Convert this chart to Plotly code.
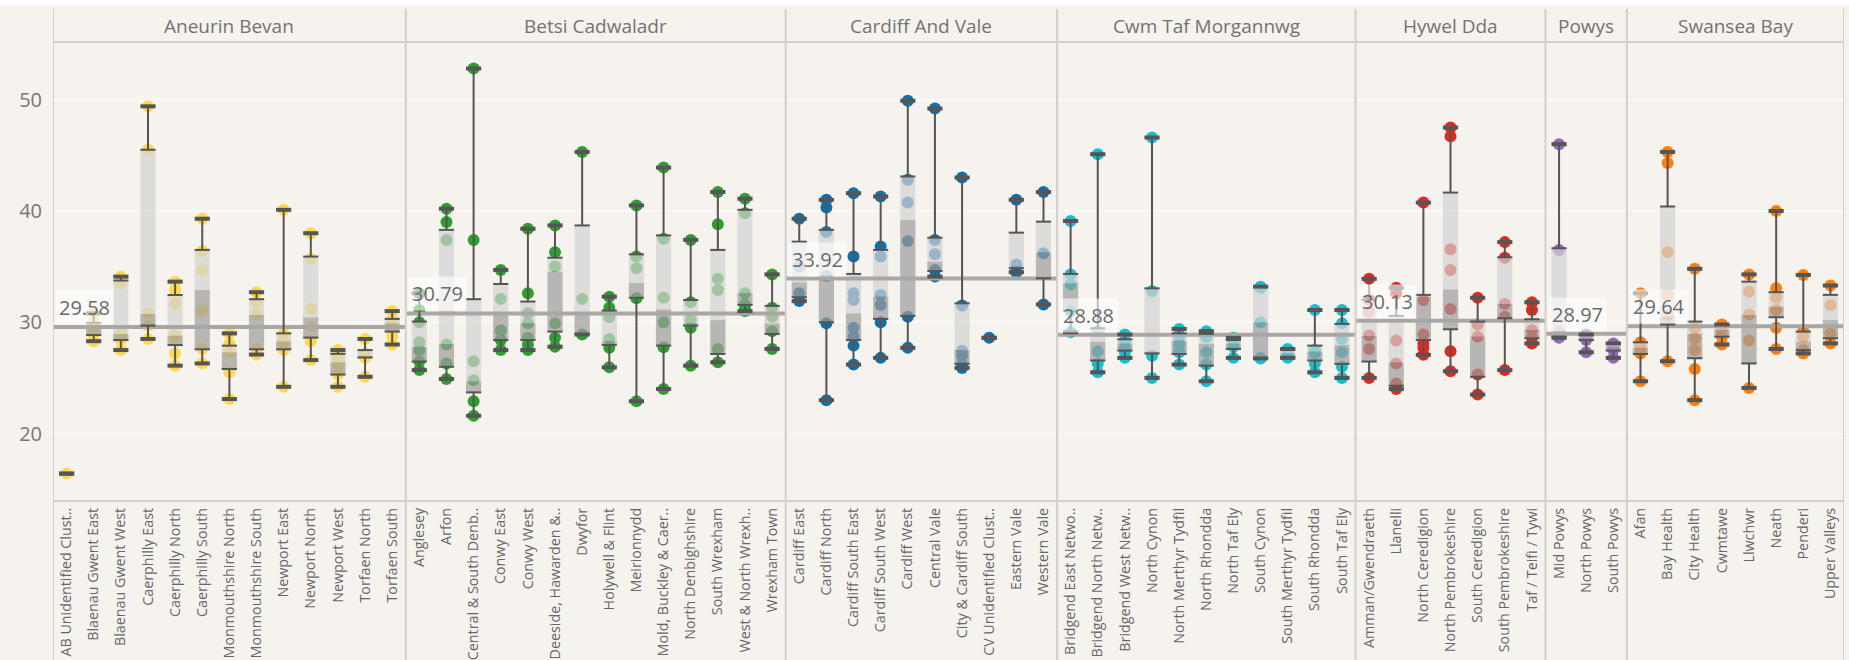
import plotly.graph_objects as go

# ---------------- DATA ----------------
boards = ["Aneurin Bevan", "Betsi Cadwaladr", "Cardiff And Vale", "Cwm Taf Morgannwg",
          "Hywel Dda", "Powys", "Swansea Bay"]
board_colors = ["#ffd84e", "#2ca02c", "#1170aa", "#17becf", "#e0291f", "#9467bd", "#ff7f0e"]
board_avg = [29.58, 30.79, 33.92, 28.88, 30.13, 28.97, 29.64]

ab_names = ["AB Unidentified Clust..", "Blaenau Gwent East", "Blaenau Gwent West", "Caerphilly East",
            "Caerphilly North", "Caerphilly South", "Monmouthshire North", "Monmouthshire South",
            "Newport East", "Newport North", "Newport West", "Torfaen North", "Torfaen South"]
ab_pts = [[16.4], [30.8, 29.9, 29.4, 28.85, 28.3], [34.1, 33.5, 28.95, 28.4, 27.5],
          [49.4, 45.5, 30.8, 29.7, 28.5], [33.65, 32.9, 31.7, 28.8, 28.6, 27.2, 26.1],
          [39.3, 36.4, 34.7, 31.1, 27.6, 26.3], [29.0, 28.1, 27.3, 25.5, 23.1],
          [32.7, 31.8, 30.7, 27.6, 27.1], [40.1, 29.0, 28.3, 27.5, 24.2],
          [38.0, 35.7, 31.2, 29.6, 28.3, 26.6], [27.5, 26.8, 26.2, 25.3, 24.2],
          [28.5, 27.2, 26.8, 25.1], [31.0, 30.3, 29.9, 29.2, 28.7, 28.0]]
ab_q1 = [16.4, 28.85, 28.4, 29.7, 27.95, 27.57, 25.8, 27.57, 27.57, 28.62, 25.3, 26.83, 29.16]
ab_med = [16.4, 29.8, 28.95, 30.75, 28.8, 32.9, 27.3, 30.66, 28.3, 30.45, 26.4, 27.0, 29.9]
ab_q3 = [16.4, 29.95, 33.75, 45.5, 32.45, 36.5, 27.9, 32.07, 29.0, 35.9, 27.16, 27.5, 30.3]

bc_names = ["Anglesey", "Arfon", "Central & South Denb..", "Conwy East", "Conwy West",
            "Deeside, Hawarden &..", "Dwyfor", "Holywell & Flint", "Meirionnydd",
            "Mold, Buckley & Caer..", "North Denbighshire", "South Wrexham",
            "West & North Wrexh..", "Wrexham Town"]
bc_pts = [[32.6, 31.1, 30.0, 28.2, 27.5, 26.5, 25.7], [40.2, 39.0, 37.4, 28.0, 26.3, 24.9],
          [52.8, 37.4, 26.5, 24.8, 22.9, 21.6], [34.7, 32.1, 29.25, 28.4, 27.5],
          [38.4, 32.6, 30.8, 29.9, 28.6, 28.0, 27.5], [38.7, 36.3, 35.0, 29.9, 28.6, 27.8],
          [45.3, 32.1, 28.9], [32.3, 31.3, 30.45, 28.5, 27.7, 25.95],
          [40.5, 35.9, 34.85, 32.15, 22.9], [43.9, 37.5, 32.2, 30.0, 27.75, 24.0],
          [37.4, 31.8, 30.2, 29.5, 26.1], [41.7, 38.8, 33.9, 32.9, 27.6, 26.4],
          [41.1, 39.8, 32.6, 31.6, 31.2, 31.0], [34.3, 31.3, 30.5, 29.2, 27.6]]
bc_q1 = [26.47, 26.0, 23.7, 28.4, 28.4, 29.16, 28.95, 27.96, 32.2, 27.9, 29.7, 27.15, 31.56, 28.95]
bc_med = [27.8, 28.05, 24.67, 30.8, 29.9, 34.55, 30.66, 28.26, 33.56, 31.17, 29.9, 30.2, 32.6, 29.9]
bc_q3 = [30.06, 38.3, 32.07, 33.44, 31.86, 35.8, 38.7, 31.05, 36.1, 37.8, 32.0, 36.5, 40.1, 31.47]

cv_names = ["Cardiff East", "Cardiff North", "Cardiff South East", "Cardiff South West",
            "Cardiff West", "Central Vale", "City & Cardiff South", "CV Unidentified Clust..",
            "Eastern Vale", "Western Vale"]
cv_pts = [[39.3, 35.0, 32.6, 31.9], [41.0, 40.3, 38.1, 34.15, 29.9, 23.0],
          [41.6, 35.9, 32.6, 32.0, 29.5, 28.7, 27.9, 26.2],
          [41.3, 36.8, 35.9, 32.45, 31.55, 30.0, 26.8], [49.9, 42.8, 40.75, 37.3, 30.5, 27.7],
          [49.2, 37.4, 36.1, 34.7, 34.1], [43.0, 31.5, 27.45, 27.0, 26.2, 25.9], [28.6],
          [41.0, 35.2, 34.5], [41.7, 36.2, 31.6]]
cv_q1 = [32.25, 30.0, 28.4, 30.3, 30.57, 34.6, 26.26, 28.6, 34.85, 33.95]
cv_med = [33.6, 34.25, 30.8, 32.3, 39.2, 35.45, 27.5, 28.6, 35.0, 36.26]
cv_q3 = [37.24, 38.3, 34.34, 36.5, 43.1, 37.6, 31.7, 28.6, 38.05, 39.04]

ct_names = ["Bridgend East Netwo..", "Bridgend North Netw..", "Bridgend West Netw..", "North Cynon",
            "North Merthyr Tydfil", "North Rhondda", "North Taf Ely", "South Cynon",
            "South Merthyr Tydfil", "South Rhondda", "South Taf Ely"]
ct_pts = [[39.1, 34.3, 33.4, 31.0, 29.1], [45.1, 29.2, 27.4, 26.3, 25.5],
          [28.9, 28.3, 27.7, 27.3, 26.8], [46.6, 32.8, 27.0, 25.0],
          [29.4, 28.7, 28.0, 27.3, 26.2], [29.2, 28.65, 27.3, 26.2, 24.7],
          [28.6, 28.26, 27.8, 26.8], [33.2, 33.1, 29.97, 26.8, 26.75], [27.6, 27.2, 26.8],
          [31.1, 27.5, 27.2, 26.3, 25.5], [31.1, 29.9, 28.5, 27.3, 26.0, 25.0]]
ct_q1 = [31.0, 26.56, 27.45, 27.2, 27.15, 26.1, 27.6, 26.77, 26.8, 26.56, 26.26]
ct_med = [33.5, 28.26, 28.1, 27.3, 28.35, 28.1, 28.1, 29.97, 27.2, 27.37, 27.96]
ct_q3 = [34.34, 29.46, 28.47, 33.05, 29.0, 28.95, 28.4, 33.2, 27.57, 27.9, 29.85]

hd_names = ["Amman/Gwendraeth", "Llanelli", "North Ceredigion", "North Pembrokeshire",
            "South Ceredigion", "South Pembrokeshire", "Taf / Teifi / Tywi"]
hd_pts = [[33.9, 32.0, 30.9, 28.8, 27.6, 25.0], [33.1, 32.6, 28.35, 26.3, 24.5, 24.0],
          [40.75, 32.0, 28.9, 28.1, 27.7, 27.07], [47.5, 46.7, 36.55, 34.7, 31.2, 27.4, 25.6],
          [32.2, 29.8, 28.7, 25.3, 23.5], [37.2, 35.8, 31.65, 30.5, 25.7],
          [31.8, 31.1, 29.3, 28.6, 28.1]]
hd_q1 = [26.47, 24.3, 28.4, 29.37, 25.1, 30.36, 28.56]
hd_med = [28.77, 26.38, 32.3, 32.96, 28.7, 31.65, 29.3]
hd_q3 = [32.0, 30.57, 32.46, 41.65, 30.06, 35.84, 30.27]

po_names = ["Mid Powys", "North Powys", "South Powys"]
po_pts = [[46.0, 36.5, 29.2, 28.7, 28.6], [28.9, 28.6, 28.4, 27.3], [28.1, 27.8, 27.5, 26.8]]
po_q1 = [28.7, 28.4, 27.45]
po_med = [29.2, 28.6, 27.8]
po_q3 = [36.65, 28.86, 28.1]

sb_names = ["Afan", "Bay Health", "City Health", "Cwmtawe", "Llwchwr", "Neath", "Penderi",
            "Upper Valleys"]
sb_pts = [[32.6, 28.2, 27.8, 27.2, 24.7], [45.3, 44.3, 36.3, 32.45, 30.65, 26.5],
          [34.8, 29.5, 28.56, 27.5, 25.8, 23.0], [29.8, 29.3, 28.7, 28.0],
          [34.3, 32.75, 30.7, 28.35, 24.1], [40.0, 33.05, 32.2, 31.1, 29.5, 27.6],
          [34.25, 29.2, 28.7, 27.5, 27.2], [33.3, 31.56, 29.0, 28.1]]
sb_q1 = [27.15, 29.8, 26.77, 28.7, 26.3, 30.45, 27.5, 28.56]
sb_med = [27.7, 30.5, 29.0, 29.3, 30.66, 31.4, 28.26, 30.2]
sb_q3 = [28.2, 40.4, 30.06, 29.76, 33.65, 32.7, 29.16, 32.46]

groups = [
    (ab_names, ab_pts, ab_q1, ab_med, ab_q3),
    (bc_names, bc_pts, bc_q1, bc_med, bc_q3),
    (cv_names, cv_pts, cv_q1, cv_med, cv_q3),
    (ct_names, ct_pts, ct_q1, ct_med, ct_q3),
    (hd_names, hd_pts, hd_q1, hd_med, hd_q3),
    (po_names, po_pts, po_q1, po_med, po_q3),
    (sb_names, sb_pts, sb_q1, sb_med, sb_q3),
]

# ---------------- STYLE ----------------
BG = "#f6f2ee"
SEP = "#d3cfcb"
WHISK = "#555555"
FONT = "Open Sans"
BW = 0.28     # half box width (category units)
CW = 0.28     # half cap width

fig = go.Figure()

all_names, all_x = [], []
panel_ranges = []
idx = 0
for gi, (names, pts, q1, med, q3) in enumerate(groups):
    start = idx
    xs = list(range(idx, idx + len(names)))
    idx += len(names)
    panel_ranges.append((start - 0.5, idx - 0.5))
    all_names += names
    all_x += xs
    px, py = [], []
    for x, p in zip(xs, pts):
        px += [x] * len(p)
        py += p
    fig.add_trace(go.Scatter(x=px, y=py, mode="markers",
                             marker=dict(size=12, color=board_colors[gi], line=dict(width=0)),
                             showlegend=False, hoverinfo="y"))

# boxes (drawn above points, semi transparent)
lowx, lowy, upx, upy = [], [], [], []
idx = 0
for names, pts, q1, med, q3 in groups:
    for k in range(len(names)):
        x = idx + k
        if q3[k] > q1[k]:
            lowx += [x - BW, x + BW, x + BW, x - BW, x - BW, None]
            lowy += [q1[k], q1[k], med[k], med[k], q1[k], None]
            upx += [x - BW, x + BW, x + BW, x - BW, x - BW, None]
            upy += [med[k], med[k], q3[k], q3[k], med[k], None]
    idx += len(names)

fig.add_trace(go.Scatter(x=lowx, y=lowy, mode="lines", fill="toself",
                         fillcolor="rgba(157,157,157,0.7)", line=dict(width=0),
                         showlegend=False, hoverinfo="skip"))
fig.add_trace(go.Scatter(x=upx, y=upy, mode="lines", fill="toself",
                         fillcolor="rgba(211,211,211,0.7)", line=dict(width=0),
                         showlegend=False, hoverinfo="skip"))

# reference lines
for gi, (x0, x1) in enumerate(panel_ranges):
    fig.add_trace(go.Scatter(x=[x0, x1], y=[board_avg[gi]] * 2, mode="lines",
                             line=dict(color="#aaa6a3", width=4),
                             showlegend=False, hoverinfo="skip"))

# whiskers and caps
wx, wy, tx, ty, hx, hy = [], [], [], [], [], []
idx = 0
for names, pts, q1, med, q3 in groups:
    for k in range(len(names)):
        x = idx + k
        lo, hi = min(pts[k]), max(pts[k])
        wx += [x, x, None, x, x, None]
        wy += [q3[k], hi, None, lo, q1[k], None]
        if q3[k] > q1[k]:
            tx += [x - CW, x + CW, None, x - CW, x + CW, None]
            ty += [q1[k], q1[k], None, q3[k], q3[k], None]
        hx += [x - CW, x + CW, None, x - CW, x + CW, None]
        hy += [lo, lo, None, hi, hi, None]
    idx += len(names)

fig.add_trace(go.Scatter(x=wx, y=wy, mode="lines", line=dict(color=WHISK, width=2),
                         showlegend=False, hoverinfo="skip"))
fig.add_trace(go.Scatter(x=tx, y=ty, mode="lines", line=dict(color=WHISK, width=2),
                         showlegend=False, hoverinfo="skip"))
fig.add_trace(go.Scatter(x=hx, y=hy, mode="lines", line=dict(color=WHISK, width=4),
                         showlegend=False, hoverinfo="skip"))

# ---------------- LAYOUT ----------------
W, H = 1849, 660
ML, MR, MT, MB = 53, 5, 42, 159
H_PLOT = H - MT - MB          # 459
PLOT_BOTTOM = H - MB          # 501
top_paper = (PLOT_BOTTOM - 9) / H_PLOT
bot_paper = (PLOT_BOTTOM - H) / H_PLOT

shapes = []
# thin white strip along the very top
shapes.append(dict(type="rect", xref="paper", yref="paper", x0=-0.05, x1=1.05,
                   y0=(PLOT_BOTTOM - 5) / H_PLOT, y1=(PLOT_BOTTOM + 5) / H_PLOT,
                   fillcolor="white", line=dict(width=0), layer="below"))
bounds = [panel_ranges[0][0]] + [r[1] for r in panel_ranges]
for b in bounds:
    shapes.append(dict(type="line", xref="x", yref="paper", x0=b, x1=b,
                       y0=bot_paper, y1=top_paper, line=dict(color=SEP, width=2)))
for yy in (0, 1):
    shapes.append(dict(type="line", xref="paper", yref="paper", x0=0, x1=1,
                       y0=yy, y1=yy, line=dict(color=SEP, width=2)))

annotations = []
for gi, (x0, x1) in enumerate(panel_ranges):
    annotations.append(dict(x=(x0 + x1) / 2, y=(PLOT_BOTTOM - 26) / H_PLOT, xref="x", yref="paper",
                            text=boards[gi], showarrow=False, yanchor="middle",
                            font=dict(family=FONT, size=19, color="#737373")))
    annotations.append(dict(x=x0, y=board_avg[gi], xref="x", yref="y",
                            text=f"{board_avg[gi]:.2f}", showarrow=False,
                            xanchor="left", yanchor="bottom", xshift=2, yshift=2,
                            bgcolor="rgba(255,255,255,0.6)", borderpad=3,
                            font=dict(family=FONT, size=20, color="#6a6a6a")))

fig.update_layout(
    width=W, height=H,
    margin=dict(l=ML, r=MR, t=MT, b=MB),
    paper_bgcolor=BG, plot_bgcolor=BG,
    shapes=shapes, annotations=annotations,
    showlegend=False,
    font=dict(family=FONT, color="#666666"),
)
fig.update_xaxes(range=[-0.5, len(all_names) - 0.5], tickmode="array", tickvals=all_x,
                 ticktext=all_names, tickangle=-90, showgrid=False, zeroline=False,
                 showline=False, ticks="", ticklabelstandoff=3, automargin=False,
                 tickfont=dict(family=FONT, size=14.3, color="#666666"))
fig.update_yaxes(range=[13.94, 55.18], tickvals=[20, 30, 40, 50], showgrid=True,
                 gridcolor="#fbf9f7", gridwidth=1.5, zeroline=False, showline=False,
                 ticks="", ticklabelstandoff=10, automargin=False,
                 tickfont=dict(family=FONT, size=20, color="#777777"))

fig.write_html("out.html", config={"displayModeBar": False},
               post_script="document.body.style.margin='0px';document.body.style.overflow='hidden';")
